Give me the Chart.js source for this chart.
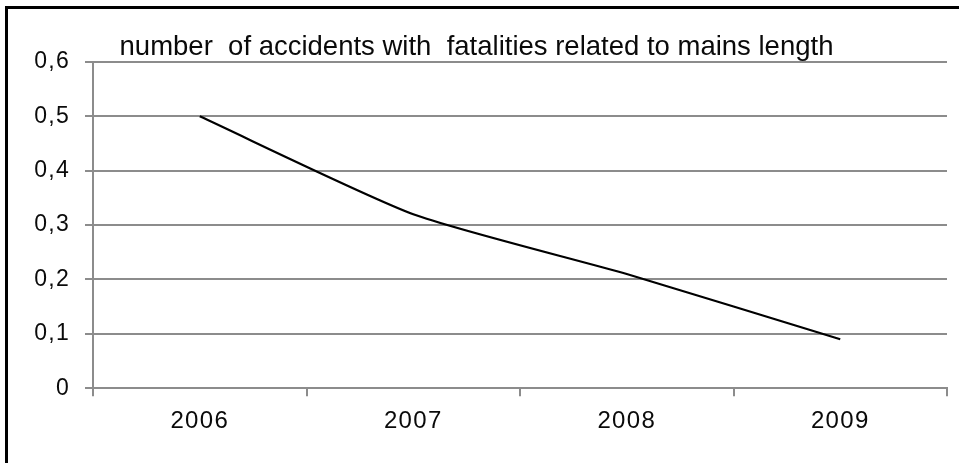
<!DOCTYPE html>
<html>
<head>
<meta charset="utf-8">
<script src="https://cdn.jsdelivr.net/npm/chart.js@4"></script>
<style>
    html, body { margin: 0; padding: 0; background: #fff; overflow: hidden; }
    #wrap { position: relative; width: 959px; height: 463px; }
    #frame {
        position: absolute; left: 5px; top: 6px; width: 1000px; height: 1000px;
        border-top: 3px solid #000; border-left: 3px solid #000;
        pointer-events: none;
    }
</style>
</head>
<body>
<div id="wrap">
    <canvas id="accidentChart" width="959" height="463"></canvas>
    <div id="frame"></div>
</div>
<script>
// ==================== DATA ====================

const years = ['2006', '2007', '2008', '2009'];
const accidentsPerLength = [0.5, 0.32, 0.21, 0.09];
const yTickValues = [0, 0.1, 0.2, 0.3, 0.4, 0.5, 0.6];
const chartTitle = 'number  of accidents with  fatalities related to mains length';

const GRID_COLOR = '#8c8c8c';
const TEXT_COLOR = '#0a0a0a';
const FONT = "'Liberation Sans', Arial, sans-serif";

function formatTick(value) {
    if (value === 0) return '0';
    return value.toFixed(1).replace('.', ',');
}

// axis labels get slightly wider lettering
const letterSpacingPlugin = {
    id: 'letterSpacing',
    beforeDraw(chart) {
        chart.ctx.letterSpacing = '1.3px';
    }
};

// title sits just above the top gridline, inside the plot frame
const headlinePlugin = {
    id: 'headline',
    afterDraw(chart) {
        const c = chart.ctx;
        c.save();
        c.letterSpacing = '0px';
        c.font = `normal 27.5px ${FONT}`;
        c.fillStyle = TEXT_COLOR;
        c.textAlign = 'center';
        c.textBaseline = 'alphabetic';
        c.fillText(chartTitle, 476.5, 55);
        c.restore();
    }
};

// ==================== CHART ====================

const ctx = document.getElementById('accidentChart');

new Chart(ctx, {
    type: 'line',
    data: {
        labels: years,
        datasets: [{
            data: accidentsPerLength,
            borderColor: '#000',
            borderWidth: 2.2,
            tension: 0.2,
            pointRadius: 0,
            fill: false
        }]
    },
    options: {
        responsive: false,
        animation: false,
        layout: {
            padding: { top: 62, right: 12, bottom: 16, left: 0 }
        },
        plugins: {
            legend: { display: false },
            tooltip: { enabled: false },
            title: { display: false }
        },
        scales: {
            x: {
                offset: true,
                grid: {
                    offset: true,
                    drawOnChartArea: false,
                    drawTicks: true,
                    tickLength: 8,
                    color: GRID_COLOR,
                    lineWidth: 2
                },
                border: { display: true, color: GRID_COLOR, width: 2 },
                ticks: {
                    color: TEXT_COLOR,
                    padding: 11,
                    font: { family: FONT, size: 24 }
                }
            },
            y: {
                min: 0,
                max: 0.6,
                afterFit: function(scale) { scale.width = 93; },
                afterBuildTicks: function(scale) {
                    scale.ticks = yTickValues.map(v => ({ value: v }));
                },
                grid: {
                    color: GRID_COLOR,
                    lineWidth: 2,
                    tickLength: 8
                },
                border: { display: true, color: GRID_COLOR, width: 2 },
                ticks: {
                    color: TEXT_COLOR,
                    padding: 15,
                    font: { family: FONT, size: 23 },
                    callback: value => formatTick(value)
                }
            }
        }
    },
    plugins: [letterSpacingPlugin, headlinePlugin]
});
</script>
</body>
</html>
